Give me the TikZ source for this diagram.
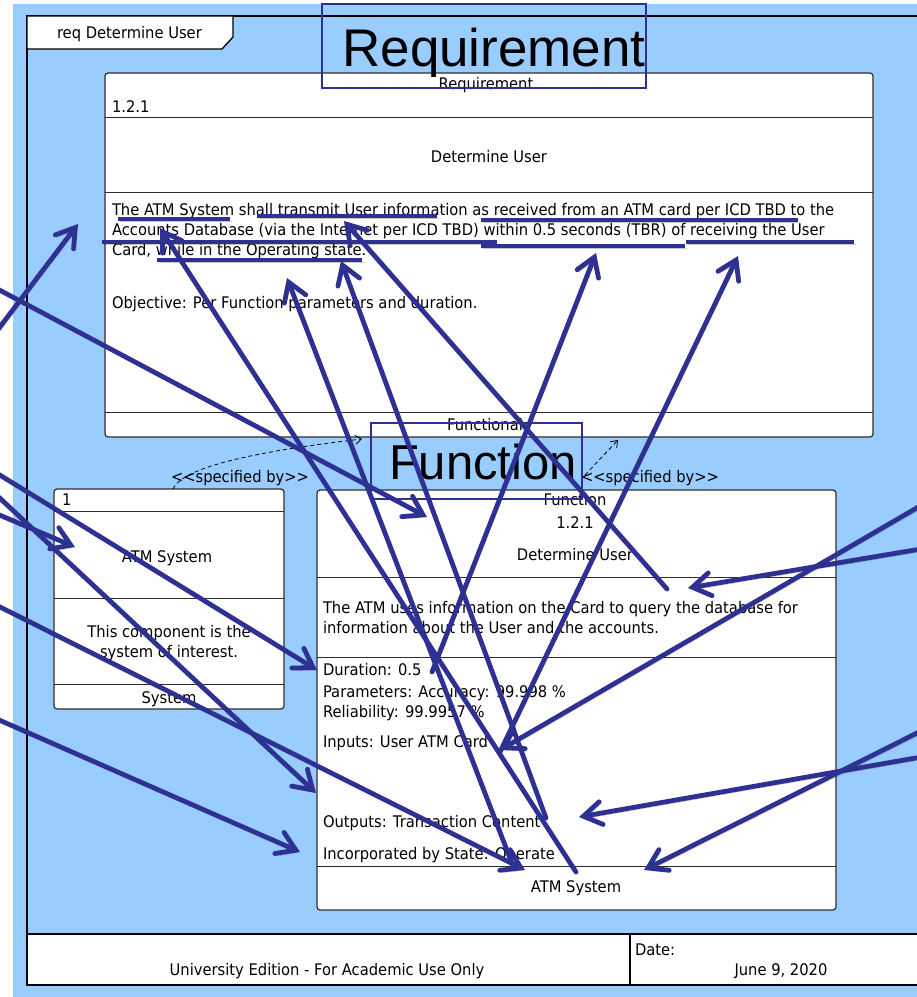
\documentclass[tikz,border=0pt]{standalone}
\usepackage{fontspec}
\setmainfont{DejaVu Sans}[FakeStretch=0.92]
\newfontfamily\arialfont{Liberation Sans}
\usetikzlibrary{arrows.meta}

\definecolor{canvasblue}{RGB}{153,204,255}
\definecolor{penblue}{RGB}{46,49,146}
\definecolor{edgegray}{RGB}{45,45,45}

\begin{document}
\begin{tikzpicture}[x=1pt,y=-1pt,
  every node/.style={inner sep=0pt, outer sep=0pt},
  lbl/.style={font=\fontsize{16}{20}\selectfont, text=black},
  biglbl/.style={font=\arialfont\fontsize{#1}{#1}\selectfont, text=black},
  block/.style={draw=edgegray, line width=1.2pt, fill=white, rounded corners=3pt},
  sep/.style={draw=edgegray, line width=1pt},
  frameline/.style={draw=black, line width=2pt},
  labelframe/.style={draw=penblue, line width=1.3pt},
  depend/.style={draw=black, line width=0.8pt, dash pattern=on 4pt off 3pt,
    -{Straight Barb[length=6pt,width=9pt]}},
  shadowed/.style={preaction={draw=black, opacity=0.22,
    transform canvas={shift={(1.5pt,-2.5pt)}}}},
  phrasemark/.style={draw=penblue, line width=4.8pt, shadowed},
  pointer/.style={draw=penblue, line width=4.8pt, line cap=round, shadowed,
    -{Straight Barb[length=18pt,width=23pt,line cap=round]}}]

\useasboundingbox (0,0) rectangle (917,997);
\fill[white] (0,0) rectangle (917,997);
\fill[canvasblue] (13,4) rectangle (930,1005);

% diagram frame, header tab and footer
\draw[frameline] (27,16) rectangle (945,985);
\filldraw[frameline, fill=white] (27,934) rectangle (945,985);
\draw[frameline] (630,934) -- (630,985);
\filldraw[fill=white, draw=black, line width=1.3pt]
  (27,16) -- (233,16) -- (233,37) -- (222,49) -- (27,49) -- cycle;
\node[lbl, anchor=base west] (tabtitle) at (57,38) {req Determine User};
\node[lbl, anchor=base] (edition) at (327,975) {University Edition - For Academic Use Only};
\node[lbl, anchor=base west] (datekey) at (635,955) {Date:};
\node[lbl, anchor=base] (dateval) at (781,975) {June 9, 2020};

% requirement block
\filldraw[block] (105,73) rectangle (873,437);
\draw[sep] (105,117) -- (873,117);
\draw[sep] (105,192) -- (873,192);
\draw[sep] (105,412) -- (873,412);
\node[lbl, anchor=base] (reqkind) at (486,89) {Requirement};
\node[lbl, anchor=base west] (reqid) at (112,112) {1.2.1};
\node[lbl, anchor=base] (reqname) at (489,162) {Determine User};
\node[lbl, anchor=base west] (reqline1) at (112,215) {The ATM System shall transmit User information as received from an ATM card per ICD TBD to the};
\node[lbl, anchor=base west] (reqline2) at (112,235) {Accounts Database (via the Internet per ICD TBD) within 0.5 seconds (TBR) of receiving the User};
\node[lbl, anchor=base west] (reqline3) at (112,255) {Card, while in the Operating state.};
\node[lbl, anchor=base west] (reqobj) at (112,308) {Objective: Per Function parameters and duration.};
\node[lbl, anchor=base] (reqcat) at (485,430) {Functional};

% system block
\filldraw[block] (54,489) rectangle (284,709);
\draw[sep] (54,511) -- (284,511);
\draw[sep] (54,598) -- (284,598);
\draw[sep] (54,684) -- (284,684);
\node[lbl, anchor=base west] (sysid) at (62,505) {1};
\node[lbl, anchor=base] (sysname) at (167,562) {ATM System};
\node[lbl, anchor=base] (sysdesc1) at (169,637) {This component is the};
\node[lbl, anchor=base] (sysdesc2) at (169,657) {system of interest.};
\node[lbl, anchor=base] (syskind) at (169,703) {System};

% function block
\filldraw[block] (317,490) rectangle (836,910);
\draw[sep] (317,577) -- (836,577);
\draw[sep] (317,657) -- (836,657);
\draw[sep] (317,866) -- (836,866);
\node[lbl, anchor=base] (funkind) at (575,505) {Function};
\node[lbl, anchor=base] (funid) at (575,528) {1.2.1};
\node[lbl, anchor=base] (funname) at (575,560) {Determine User};
\node[lbl, anchor=base west] (fundesc1) at (323,613) {The ATM uses information on the Card to query the database for};
\node[lbl, anchor=base west] (fundesc2) at (323,633) {information about the User and the accounts.};
\node[lbl, anchor=base west] (fundur) at (323,675) {Duration: 0.5};
\node[lbl, anchor=base west] (funpar) at (323,697) {Parameters: Accuracy: 99.998 \%};
\node[lbl, anchor=base west] (funrel) at (323,717) {Reliability: 99.9957 \%};
\node[lbl, anchor=base west] (funin) at (323,747) {Inputs: User ATM Card};
\node[lbl, anchor=base west] (funout) at (323,827) {Outputs: Transaction Content};
\node[lbl, anchor=base west] (funstate) at (323,859) {Incorporated by State: Operate};
\node[lbl, anchor=base] (funalloc) at (576,892) {ATM System};

% <<specified by>> dependencies
\coordinate (sysdep) at (173,489);
\coordinate (reqdepL) at (362,439);
\coordinate (fundep) at (585,475);
\coordinate (reqdepR) at (618,440);
\draw[depend] (sysdep) .. controls (182,468) and (250,452) .. (reqdepL);
\draw[depend] (fundep) -- (reqdepR);
\node[lbl, anchor=base] (specL) at (240,482) {{<}{<}specified by{>}{>}};
\node[lbl, anchor=base] (specR) at (650,482) {{<}{<}specified by{>}{>}};

% section captions
\node[biglbl=53, anchor=base] (reqcaption) at (494,66) {Requirement};
\draw[labelframe] (322,4) rectangle (646,88);
\node[biglbl=49, anchor=base] (funcaption) at (483,479) {Function};
\draw[labelframe] (371,423) rectangle (582,499);

% underlined phrases of the requirement text
\draw[phrasemark] (118,219) -- (230,219);
\draw[phrasemark] (257,216) -- (437,216);
\draw[phrasemark] (481,220) -- (798,220);
\draw[phrasemark] (102,242) -- (497,242);
\draw[phrasemark] (481,246) -- (685,246);
\draw[phrasemark] (686,242) -- (854,242);
\draw[phrasemark] (157,260) -- (362,260);

% trace pointers: tails
\coordinate (tA) at (-10,340);
\coordinate (tB) at (-10,285);
\coordinate (tC) at (-10,511);
\coordinate (tD) at (-10,469);
\coordinate (tE) at (-10,489);
\coordinate (tF) at (-10,602);
\coordinate (tG) at (-10,716);
\coordinate (tH) at (927,548);
\coordinate (tI) at (927,756);
\coordinate (tJ) at (927,728);
\coordinate (tK) at (927,502);
\coordinate (tL) at (432,672);
\coordinate (tM) at (500,752);
\coordinate (tN) at (546,818);
\coordinate (tO) at (513,866);
\coordinate (tP) at (576,872);
\coordinate (tQ) at (667,589);
% trace pointers: heads
\coordinate (hA) at (78,224);
\coordinate (hB) at (427,517);
\coordinate (hC) at (75,547);
\coordinate (hD) at (317,670);
\coordinate (hE) at (316,793);
\coordinate (hF) at (525,870);
\coordinate (hG) at (300,852);
\coordinate (hH) at (688,588);
\coordinate (hI) at (579,817);
\coordinate (hJ) at (644,870);
\coordinate (hK) at (500,750);
\coordinate (hL) at (596,253);
\coordinate (hM) at (738,256);
\coordinate (hN) at (341,261);
\coordinate (hO) at (287,278);
\coordinate (hP) at (160,228);
\coordinate (hQ) at (344,221);

\foreach \p in {A,B,C,D,E,F,G,H,I,J,K,L,M,N,O,P,Q}
  \draw[pointer] (t\p) -- (h\p);

\end{tikzpicture}
\end{document}
